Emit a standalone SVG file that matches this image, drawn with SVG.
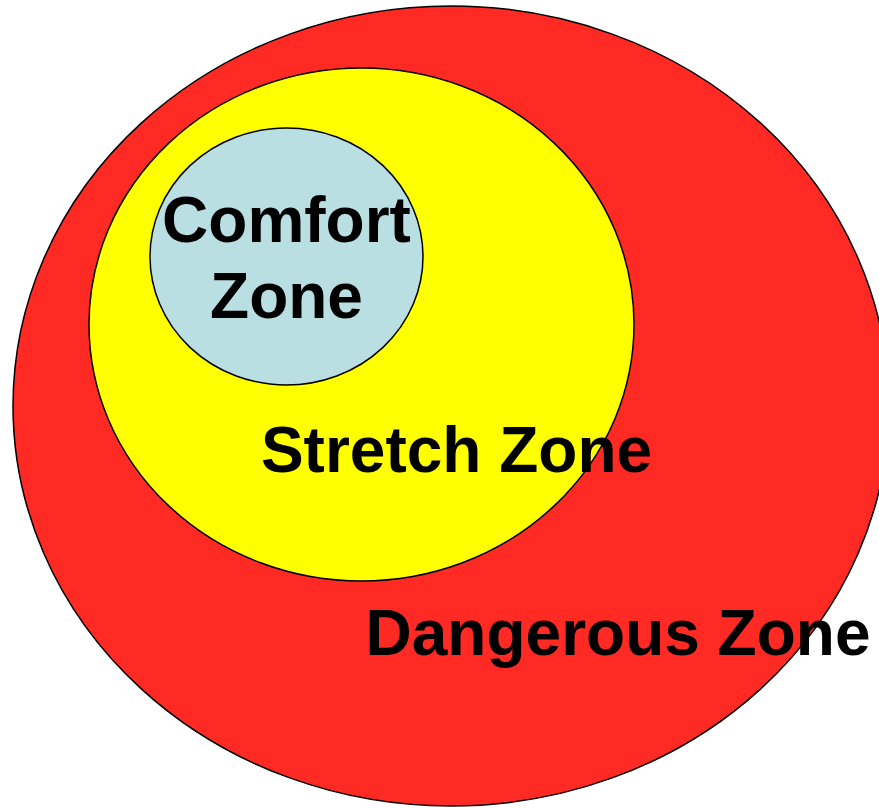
<svg xmlns="http://www.w3.org/2000/svg" width="879" height="808" viewBox="0 0 879 808">
<style>
.z{stroke:#000;stroke-width:1.5}
.t{font-family:"Liberation Sans",Arial,sans-serif;font-weight:bold;font-size:64px;fill:#000;text-anchor:middle}
</style>
<rect width="879" height="808" fill="#fff"/>
<g id="dangerous">
<ellipse class="z" cx="451" cy="406" rx="438" ry="400" fill="#FF2A24"/>
</g>
<g id="stretch">
<ellipse class="z" cx="361.5" cy="324.5" rx="272.5" ry="256.5" fill="#FFFF00"/>
</g>
<g id="comfort">
<ellipse class="z" cx="286.5" cy="256.5" rx="136.5" ry="128.5" fill="#B9DFE2"/>
</g>
<g id="labels">
<text class="t" x="286.5" y="242">Comfort</text>
<text class="t" x="286.5" y="318">Zone</text>
<text class="t" x="456.5" y="472">Stretch Zone</text>
<text class="t" x="618" y="655">Dangerous Zone</text>
</g>
</svg>
